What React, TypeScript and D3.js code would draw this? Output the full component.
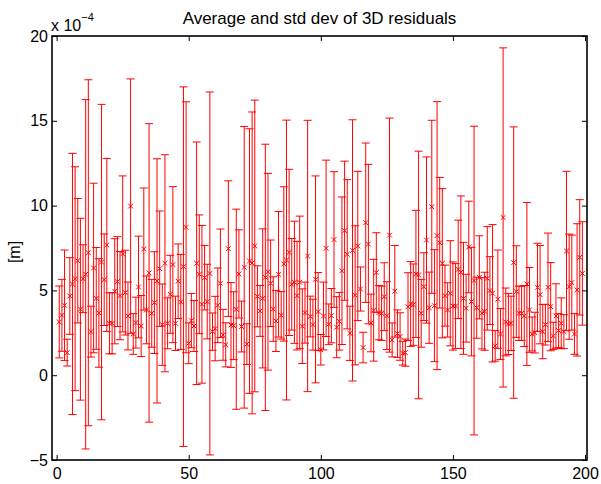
import React, { useEffect, useRef } from 'react';
import * as d3 from 'd3';

// mean of the 3D residual per sample, in units of 1e-4 m (samples 1..199)
const avg = [
  3.14, 3.53, 4.12, 1.33, 4.67, 5.38, 5.69, 6.75, 3.89, 5.69,
  5.95, 7.22, 2.57, 6.32, 4.53, 3.67, 6.67, 5.63, 7.68, 3.06,
  3.06, 4.95, 5.52, 4.69, 7.15, 4.87, 3.49, 9.97, 2.43, 3.1,
  5.2, 2.9, 7.44, 3.85, 6.03, 3.65, 4.28, 5.56, 6.28, 2.98,
  6.6, 3.06, 4.77, 6.52, 3.06, 5.54, 4.32, 6.4, 8.72, 1.88,
  3.22, 2.9, 6.6, 5.95, 4.18, 5.75, 4.34, 6.0, 2.57, 2.75,
  4.12, 5.42, 2.38, 1.79, 7.46, 2.96, 2.92, 3.89, 5.97, 2.87,
  6.36, 1.83, 6.73, 6.62, 7.62, 4.65, 3.79, 4.53, 5.77, 6.1,
  5.42, 3.9, 3.2, 5.95, 3.53, 6.56, 6.79, 7.24, 5.36, 5.48,
  4.69, 5.48, 2.89, 3.69, 7.03, 3.46, 2.98, 5.65, 3.75, 1.5,
  3.49, 7.48, 3.0, 3.51, 8.0, 2.83, 3.18, 6.16, 8.52, 7.13,
  2.47, 7.36, 4.71, 7.62, 5.08, 1.63, 8.99, 7.73, 3.08, 3.83,
  6.05, 3.69, 3.65, 4.63, 3.51, 8.26, 2.08, 4.95, 2.45, 2.28,
  1.3, 1.33, 4.04, 4.2, 4.16, 5.97, 5.91, 3.65, 5.22, 7.97,
  3.98, 9.93, 4.1, 8.23, 7.81, 6.6, 4.69, 3.85, 4.83, 4.08,
  4.08, 6.24, 6.07, 4.53, 3.95, 7.56, 4.34, 5.58, 3.98, 5.77,
  3.65, 3.77, 5.71, 4.99, 4.83, 1.73, 4.48, 2.43, 9.3, 3.14,
  3.02, 3.06, 6.64, 4.93, 3.65, 3.65, 3.49, 5.38, 3.85, 2.43,
  2.51, 5.18, 4.75, 2.57, 2.98, 5.18, 4.04, 2.32, 3.49, 2.63,
  3.06, 2.57, 7.32, 5.22, 5.46, 2.43, 5.03, 6.95, 6.0,
];

// standard deviation per sample, same units
const sd = [
  2.12, 2.12, 3.26, 0.79, 2.26, 7.7, 6.6, 3.67, 5.36, 2.0,
  10.3, 10.2, 1.5, 5.0, 3.0, 3.2, 9.3, 2.7, 5.1, 1.8,
  1.8, 3.1, 2.65, 2.6, 4.6, 2.5, 2.0, 7.5, 1.2, 1.5,
  3.0, 1.8, 3.6, 2.0, 8.8, 2.0, 3.0, 7.2, 3.4, 2.4,
  6.4, 1.5, 2.3, 4.6, 1.6, 2.2, 2.8, 10.6, 7.4, 1.2,
  1.6, 1.5, 7.15, 3.5, 4.65, 1.9, 2.2, 10.7, 1.1, 1.9,
  2.2, 3.2, 1.5, 1.3, 4.0, 2.5, 2.0, 5.9, 2.6, 1.5,
  8.3, 1.2, 7.8, 8.9, 8.6, 1.8, 1.5, 4.1, 7.85, 5.8,
  2.55, 1.9, 1.8, 3.7, 1.4, 4.55, 8.25, 4.9, 2.7, 3.6,
  3.2, 3.9, 2.2, 1.8, 8.0, 1.2, 1.5, 6.1, 2.3, 0.9,
  2.0, 5.2, 1.2, 1.6, 4.0, 1.8, 1.7, 4.35, 4.1, 4.4,
  1.6, 7.7, 4.1, 4.4, 1.3, 0.9, 4.7, 4.7, 1.7, 3.0,
  2.35, 1.6, 1.6, 2.0, 2.0, 6.9, 1.0, 2.7, 1.4, 1.4,
  0.7, 0.8, 2.0, 2.5, 2.4, 3.75, 7.3, 2.0, 2.0, 4.9,
  2.1, 5.1, 3.3, 7.9, 3.85, 4.4, 1.8, 1.6, 3.1, 2.6,
  2.5, 2.9, 4.5, 3.3, 2.0, 2.7, 3.2, 9.1, 1.8, 2.45,
  2.1, 2.3, 3.05, 2.0, 4.05, 0.9, 2.9, 1.5, 10.0, 2.0,
  1.8, 1.6, 8.0, 2.7, 1.6, 1.6, 1.8, 4.8, 2.5, 1.0,
  1.2, 2.6, 2.9, 1.6, 1.2, 3.2, 2.6, 0.8, 1.9, 1.0,
  1.5, 1.0, 4.7, 3.1, 2.8, 1.2, 3.9, 3.4, 3.05,
];

const xTicks = [0, 50, 100, 150, 200];
const yTicks = [-5, 0, 5, 10, 15, 20];

const W = 601;
const H = 484;
const FONT = 'Liberation Sans, Arial, Helvetica, sans-serif';

export default function App() {
  const ref = useRef<SVGSVGElement>(null);

  useEffect(() => {
    const svg = d3.select(ref.current);
    svg.selectAll('*').remove();

    const left = 52, right = 587, top = 36, bottom = 460;

    const x = d3.scaleLinear().domain([-1.75, 200.75]).range([left, right]);
    const y = d3.scaleLinear().domain([-5, 20]).range([bottom, top]);

    const data = avg.map((m, i) => ({ i: i + 1, m, s: sd[i] }));
    const cap = 4;
    const red = '#ff0000';

    const g = svg.append('g');

    // error bars: mean +/- std
    const bars = g.selectAll('.bar').data(data).enter().append('g').attr('class', 'bar')
      .attr('stroke', red).attr('stroke-width', 1).attr('fill', 'none');
    bars.append('line')
      .attr('x1', d => x(d.i)).attr('x2', d => x(d.i))
      .attr('y1', d => y(d.m + d.s)).attr('y2', d => y(d.m - d.s));
    bars.append('line')
      .attr('x1', d => x(d.i) - cap).attr('x2', d => x(d.i) + cap)
      .attr('y1', d => y(d.m + d.s)).attr('y2', d => y(d.m + d.s));
    bars.append('line')
      .attr('x1', d => x(d.i) - cap).attr('x2', d => x(d.i) + cap)
      .attr('y1', d => y(d.m - d.s)).attr('y2', d => y(d.m - d.s));

    // 'x' markers for the mean
    const mk = 2.4;
    g.selectAll('.mark').data(data).enter().append('path').attr('class', 'mark')
      .attr('d', d => {
        const cx = x(d.i), cy = y(d.m);
        return `M${cx - mk},${cy - mk}L${cx + mk},${cy + mk}M${cx - mk},${cy + mk}L${cx + mk},${cy - mk}`;
      })
      .attr('stroke', red).attr('stroke-width', 1).attr('fill', 'none');

    // axes box
    svg.append('rect')
      .attr('x', left).attr('y', top).attr('width', right - left).attr('height', bottom - top)
      .attr('fill', 'none').attr('stroke', '#000').attr('stroke-width', 1.6);

    const styleAxis = (sel: any) => {
      sel.select('.domain').remove();
      sel.selectAll('line').attr('stroke', '#000');
      sel.selectAll('text').style('font-family', FONT).style('font-size', '16px').attr('fill', '#000');
    };

    svg.append('g').attr('transform', `translate(0,${bottom})`)
      .call(d3.axisBottom(x).tickValues(xTicks).tickSizeInner(-5).tickSizeOuter(0).tickPadding(8))
      .call(styleAxis);
    svg.append('g').attr('transform', `translate(0,${top})`)
      .call(d3.axisTop(x).tickValues(xTicks).tickSizeInner(-5).tickSizeOuter(0).tickFormat(() => ''))
      .call(styleAxis);
    svg.append('g').attr('transform', `translate(${left},0)`)
      .call(d3.axisLeft(y).tickValues(yTicks).tickSizeInner(-5).tickSizeOuter(0).tickPadding(4))
      .call(styleAxis);
    svg.append('g').attr('transform', `translate(${right},0)`)
      .call(d3.axisRight(y).tickValues(yTicks).tickSizeInner(-5).tickSizeOuter(0).tickFormat(() => ''))
      .call(styleAxis);

    // exponent label
    const ex = svg.append('text').attr('x', 51).attr('y', 31)
      .style('font-family', FONT).style('font-size', '16px').attr('fill', '#000');
    ex.append('tspan').text('x 10');
    ex.append('tspan').attr('dy', -10).style('font-size', '11px').text('\u22124');

    // title
    svg.append('text').attr('x', (left + right) / 2).attr('y', 24)
      .attr('text-anchor', 'middle')
      .style('font-family', FONT).style('font-size', '17px').attr('fill', '#000')
      .text('Average and std dev of 3D residuals');

    // y label
    svg.append('text')
      .attr('transform', `translate(20,252) rotate(-90)`)
      .attr('text-anchor', 'middle')
      .style('font-family', FONT).style('font-size', '16px').attr('fill', '#000')
      .text('[m]');
  }, []);

  return (
    <svg ref={ref} width={W} height={H}
      style={{ position: 'absolute', left: 0, top: 0, background: '#fff' }} />
  );
}
